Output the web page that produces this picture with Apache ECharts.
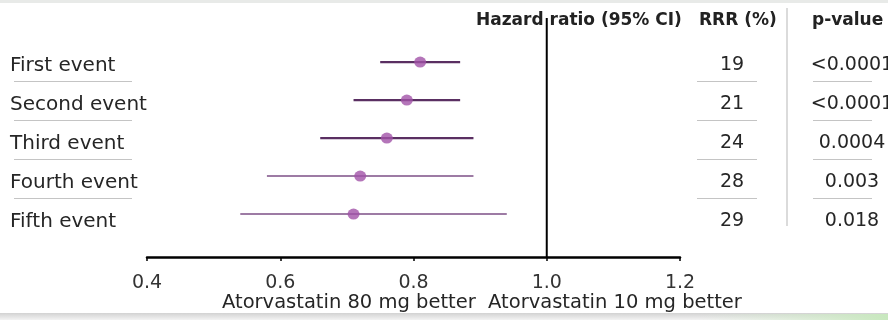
<!DOCTYPE html>
<html>
<head>
<meta charset="utf-8">
<script src="https://cdn.jsdelivr.net/npm/echarts@6/dist/echarts.min.js"></script>
<style>
  html, body { margin: 0; padding: 0; background: #ffffff; }
  #chart { width: 888px; height: 320px; }
</style>
</head>
<body>
<div id="chart"></div>
<script>
// Recurrent events: hazard ratios, atorvastatin 80 mg vs 10 mg
const events = ['First event', 'Second event', 'Third event', 'Fourth event', 'Fifth event'];
const hazardRatio = [0.81, 0.79, 0.76, 0.72, 0.71];
const ciLower = [0.75, 0.71, 0.66, 0.58, 0.54];
const ciUpper = [0.87, 0.87, 0.89, 0.89, 0.94];
const rrrPercent = ['19', '21', '24', '28', '29'];
const pValues = ['<0.0001', '<0.0001', '0.0004', '0.003', '0.018'];
const xTicks = [0.4, 0.6, 0.8, 1.0, 1.2];
const referenceHR = 1.0;

const FONT = 'DejaVu Sans';
const TEXT = '#262626';
const ROW_MIN = -0.16, ROW_MAX = 6.13;   // plot rows run 1..5 inside this range

const chart = echarts.init(document.getElementById('chart'), null, { renderer: 'canvas' });

const option = {
  backgroundColor: '#ffffff',
  animation: false,
  grid: [
    { left: 147, width: 533, top: 18, height: 239 },   // forest plot
    { left: 0, width: 888, top: 46, height: 195 }       // text table
  ],
  xAxis: [
    {
      type: 'value', gridIndex: 0,
      min: xTicks[0], max: xTicks[xTicks.length - 1], interval: xTicks[1] - xTicks[0],
      axisLine: { show: true, onZero: false, lineStyle: { color: '#000', width: 2.5 } },
      axisTick: { show: true, length: 4, lineStyle: { color: '#000', width: 1.5 } },
      axisLabel: {
        fontFamily: FONT, fontSize: 19, color: '#333', margin: 17,
        showMinLabel: true, showMaxLabel: true,
        formatter: v => v.toFixed(1)
      },
      splitLine: { show: false }
    },
    { type: 'value', gridIndex: 1, min: 0, max: 888, show: false }
  ],
  yAxis: [
    { type: 'value', gridIndex: 0, min: ROW_MIN, max: ROW_MAX, inverse: true, show: false },
    { type: 'category', gridIndex: 1, data: events, inverse: true, show: false }
  ],
  series: [
    // reference line at HR = 1
    {
      type: 'line', xAxisIndex: 0, yAxisIndex: 0, silent: true, symbol: 'none', z: 1,
      data: [[referenceHR, ROW_MIN], [referenceHR, ROW_MAX]],
      lineStyle: { color: '#000', width: 2 }
    },
    // confidence intervals
    {
      type: 'custom', xAxisIndex: 0, yAxisIndex: 0, z: 2,
      data: events.map((e, i) => [ciLower[i], ciUpper[i], i + 1]),
      encode: { x: [0, 1], y: 2 },
      renderItem: (params, api) => {
        const a = api.coord([api.value(0), api.value(2)]);
        const b = api.coord([api.value(1), api.value(2)]);
        const strong = params.dataIndex < 3;
        return {
          type: 'line',
          shape: { x1: a[0], y1: a[1], x2: b[0], y2: b[1] },
          style: { stroke: strong ? '#5a2f62' : '#7d4f86', lineWidth: strong ? 2.2 : 1.6 }
        };
      }
    },
    // point estimates
    {
      type: 'scatter', xAxisIndex: 0, yAxisIndex: 0, z: 3,
      data: hazardRatio.map((v, i) => [v, i + 1]),
      symbol: 'circle', symbolSize: [12, 11],
      itemStyle: { color: '#a152a8' }
    },
    // table: event names, RRR and p-values with row rules
    {
      type: 'custom', xAxisIndex: 1, yAxisIndex: 1, z: 4, silent: true,
      data: events.map((e, i) => [0, i]),
      encode: { x: 0, y: 1 },
      renderItem: (params, api) => {
        const i = params.dataIndex;
        const y = api.coord([0, api.value(1)])[1];
        const children = [
          { type: 'text', style: { text: events[i], x: 10, y: y, textVerticalAlign: 'middle', textAlign: 'left', font: '20px "' + FONT + '"', fill: TEXT } },
          { type: 'text', style: { text: rrrPercent[i], x: 732, y: y, textVerticalAlign: 'middle', textAlign: 'center', font: '19px "' + FONT + '"', fill: TEXT } },
          { type: 'text', style: { text: pValues[i], x: 852, y: y, textVerticalAlign: 'middle', textAlign: 'center', font: '19px "' + FONT + '"', fill: TEXT } }
        ];
        if (i < events.length - 1) {
          const ry = y + 16;
          children.push(
            { type: 'line', shape: { x1: 14, y1: ry, x2: 132, y2: ry }, style: { stroke: '#c4c4c4', lineWidth: 1.2 } },
            { type: 'line', shape: { x1: 697, y1: ry, x2: 757, y2: ry }, style: { stroke: '#c4c4c4', lineWidth: 1.2 } },
            { type: 'line', shape: { x1: 813, y1: ry, x2: 872, y2: ry }, style: { stroke: '#c4c4c4', lineWidth: 1.2 } }
          );
        }
        return { type: 'group', children: children };
      }
    }
  ],
  graphic: [
    // slide frame edges
    { type: 'rect', left: 0, top: 0, shape: { width: 888, height: 3 }, style: { fill: '#e8eae8' }, silent: true },
    {
      type: 'rect', left: 0, top: 313, shape: { width: 888, height: 7 }, silent: true,
      style: { fill: new echarts.graphic.LinearGradient(0, 0, 0, 1, [{ offset: 0, color: '#d2d2d2' }, { offset: 1, color: '#f3f3f3' }]) }
    },
    {
      type: 'rect', left: 700, top: 314, shape: { width: 188, height: 6 }, silent: true,
      style: { fill: new echarts.graphic.LinearGradient(0, 0, 1, 0, [{ offset: 0, color: 'rgba(214,236,208,0)' }, { offset: 1, color: 'rgba(200,232,190,1)' }]) }
    },
    // column separator
    { type: 'line', shape: { x1: 787, y1: 8, x2: 787, y2: 226 }, style: { stroke: '#cfcfcf', lineWidth: 1.5 }, silent: true },
    // column headers
    { type: 'text', left: 476, top: 12, style: { text: 'Hazard ratio (95% CI)', font: 'bold 17px "' + FONT + '"', fill: '#222' }, z: 10 },
    { type: 'text', left: 699, top: 12, style: { text: 'RRR (%)', font: 'bold 17px "' + FONT + '"', fill: '#222' }, z: 10 },
    { type: 'text', left: 812, top: 12, style: { text: 'p-value', font: 'bold 17px "' + FONT + '"', fill: '#222' }, z: 10 },
    // axis caption
    { type: 'text', left: 222, top: 293, style: { text: 'Atorvastatin 80 mg better  Atorvastatin 10 mg better', font: '19.5px "' + FONT + '"', fill: TEXT }, z: 10 }
  ]
};

chart.setOption(option);
</script>
</body>
</html>
